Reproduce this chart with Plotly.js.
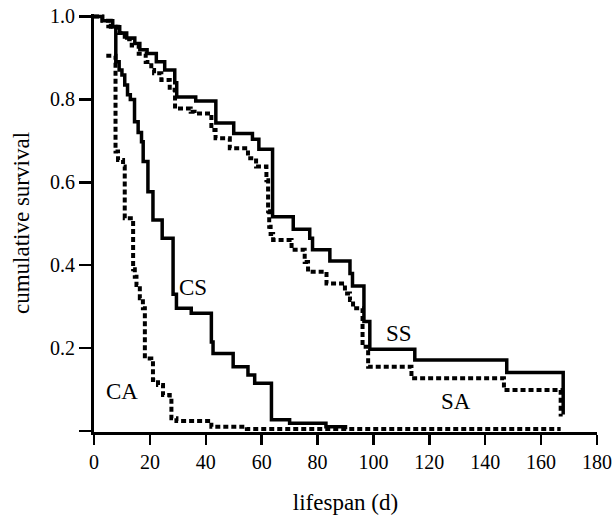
<!DOCTYPE html>
<html>
<head>
<meta charset="utf-8">
<script src="https://cdn.plot.ly/plotly-3.0.1.min.js"></script>
<style>html,body{margin:0;padding:0;background:#fff;}#chart{width:615px;height:520px;}</style>
</head>
<body>
<div id="chart"></div>
<script>
// Kaplan-Meier style survival curves (time in days, cumulative survival)
const ssDays = [0, 3, 6.7, 9.2, 11.7, 14.6, 16.4, 19, 22.3, 25.3, 28.9, 29.6, 36.4, 43.6, 50.0, 56.7, 59.0, 63.9, 71.3, 77.2, 78.2, 84.4, 91.6, 92.5, 96.6, 98.7, 114.8, 147.7, 167.9];
const ssSurv = [1.0, 0.99, 0.975, 0.96, 0.948, 0.935, 0.92, 0.911, 0.891, 0.871, 0.84, 0.806, 0.796, 0.743, 0.718, 0.704, 0.68, 0.517, 0.487, 0.465, 0.437, 0.41, 0.38, 0.35, 0.264, 0.197, 0.171, 0.141, 0.04];

const saDays = [0, 3, 6, 8.5, 11, 13.5, 16, 18.5, 20.5, 21.5, 24.1, 27.1, 29, 34.6, 36, 42, 43.5, 48.6, 55.1, 58, 61.7, 62.3, 62.7, 63.2, 64.1, 70.7, 75.4, 76.6, 83.2, 89.8, 91.6, 92.7, 96.1, 98.1, 113.6, 146.7, 167];
const saSurv = [1.0, 0.99, 0.975, 0.96, 0.945, 0.93, 0.91, 0.89, 0.871, 0.863, 0.847, 0.823, 0.778, 0.77, 0.766, 0.726, 0.706, 0.682, 0.658, 0.638, 0.605, 0.53, 0.493, 0.475, 0.461, 0.437, 0.408, 0.384, 0.356, 0.332, 0.316, 0.296, 0.203, 0.155, 0.127, 0.099, 0.035];

const csDays = [4.4, 7.8, 9.0, 10.0, 11.0, 12.0, 13.0, 14.5, 15.8, 17.0, 17.6, 19.3, 21.1, 24.4, 28.3, 29.5, 34.8, 42.0, 42.6, 49.8, 55.1, 57.5, 63.5, 70.0, 83.0, 90.0];
const csSurv = [0.976, 0.891, 0.871, 0.859, 0.835, 0.811, 0.80, 0.746, 0.72, 0.698, 0.65, 0.577, 0.509, 0.465, 0.33, 0.296, 0.284, 0.215, 0.187, 0.155, 0.135, 0.115, 0.027, 0.019, 0.01, 0.004];

const caDays = [4.4, 7.7, 8.6, 10.4, 11.0, 14.0, 14.6, 15.2, 16.4, 17.5, 18.2, 20.5, 21.1, 22.9, 24.7, 27.1, 27.7, 29.5, 42.0, 54.7, 167];
const caSurv = [0.905, 0.674, 0.654, 0.638, 0.513, 0.39, 0.372, 0.352, 0.320, 0.296, 0.175, 0.171, 0.123, 0.111, 0.087, 0.079, 0.031, 0.024, 0.01, 0.005, 0.005];

const curveLabels = ["SS", "SA", "CS", "CA"];
const labelX = [109.1, 129.5, 35.4, 10.1];
const labelY = [0.236, 0.07, 0.347, 0.0965];

const xTicks = [0, 20, 40, 60, 80, 100, 120, 140, 160, 180];
const yTicks = [0, 0.2, 0.4, 0.6, 0.8, 1.0];
const yTickText = ["", "0.2", "0.4", "0.6", "0.8", "1.0"];

const FONT = "Liberation Serif, Times New Roman, serif";
const solid = {color: "#000", width: 3.5, shape: "hv"};
const dotted = {color: "#000", width: 4, shape: "hv", dash: "5px,3px"};

const traces = [
  {x: ssDays, y: ssSurv, mode: "lines", line: solid, name: "SS"},
  {x: saDays, y: saSurv, mode: "lines", line: dotted, name: "SA"},
  {x: csDays, y: csSurv, mode: "lines", line: solid, name: "CS"},
  {x: caDays, y: caSurv, mode: "lines", line: dotted, name: "CA"}
];

const annotations = curveLabels.map((t, i) => ({
  x: labelX[i], y: labelY[i], xref: "x", yref: "y", text: t, showarrow: false,
  font: {family: FONT, size: 23, color: "#000"}, xanchor: "center", yanchor: "middle"
}));

const layout = {
  width: 615, height: 520,
  margin: {l: 94, r: 18, t: 14, b: 88},
  paper_bgcolor: "#fff", plot_bgcolor: "#fff",
  showlegend: false,
  font: {family: FONT, size: 20, color: "#000"},
  xaxis: {
    range: [0, 180], tickvals: xTicks, ticks: "outside", ticklen: 10, tickwidth: 2.5, tickcolor: "#000",
    showline: true, linewidth: 3, linecolor: "#000", showgrid: false, zeroline: false,
    tickfont: {family: FONT, size: 20, color: "#000"},
    title: {text: "lifespan (d)", font: {family: FONT, size: 23, color: "#000"}, standoff: 22}
  },
  yaxis: {
    range: [-0.0024, 1.006], tickvals: yTicks, ticktext: yTickText, ticks: "outside", ticklen: 12, tickwidth: 2.5, tickcolor: "#000",
    showline: true, linewidth: 3, linecolor: "#000", showgrid: false, zeroline: false,
    tickfont: {family: FONT, size: 20, color: "#000"},
    title: {text: "cumulative survival", font: {family: FONT, size: 23, color: "#000"}, standoff: 14}
  },
  annotations: annotations
};

Plotly.newPlot("chart", traces, layout, {staticPlot: true, displayModeBar: false});
</script>
</body>
</html>
